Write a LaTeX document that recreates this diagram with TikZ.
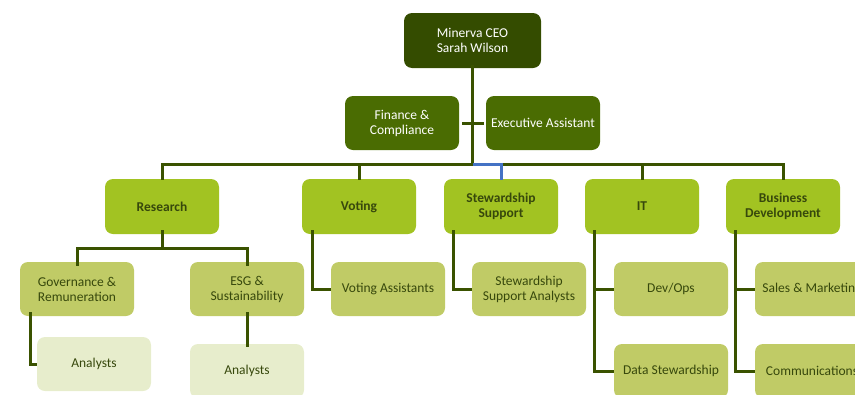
\documentclass[tikz,border=0pt]{standalone}
\usepackage{fontspec}
\setmainfont{Carlito}
\usetikzlibrary{positioning,calc}

\definecolor{ceogreen}{RGB}{52,76,0}
\definecolor{staffgreen}{RGB}{74,108,2}
\definecolor{deptgreen}{RGB}{162,195,34}
\definecolor{teamgreen}{RGB}{192,203,102}
\definecolor{subgreen}{RGB}{231,237,204}
\definecolor{linegreen}{RGB}{58,82,0}
\definecolor{textgreen}{RGB}{55,72,12}
\definecolor{linkblue}{RGB}{68,114,196}

\tikzset{
    box/.style={rounded corners=8pt, minimum width=114pt, minimum height=54pt, align=center,
        font=\fontsize{13.5}{15}\selectfont, inner sep=2pt},
    ceobox/.style={box, fill=ceogreen, text=white, minimum width=137pt, minimum height=55pt},
    staffbox/.style={box, fill=staffgreen, text=white},
    deptbox/.style={box, fill=deptgreen, text=textgreen, font=\fontsize{13.5}{15}\selectfont\bfseries, minimum height=55pt},
    teambox/.style={box, fill=teamgreen, text=textgreen},
    subbox/.style={box, fill=subgreen, text=textgreen},
    link/.style={draw=linegreen, line width=3pt},
}

\begin{document}
\begin{tikzpicture}[x=1pt,y=-1pt]
    \useasboundingbox (0,0) rectangle (855,394);
    \clip (0,0) rectangle (855,394);

    % top of the chart
    \node[ceobox] (ceo) at (472.5,40.5) {Minerva CEO\\Sarah Wilson};
    \node[staffbox] (fin) at (402,123) {Finance \&\\Compliance};
    \node[staffbox] (exec) at (543,123) {Executive Assistant};

    % departments
    \node[deptbox] (research) at (162,206.5) {Research};
    \node[deptbox] (voting) at (359,206.5) {Voting};
    \node[deptbox] (stew) at (501,206.5) {Stewardship\\Support};
    \node[deptbox] (it) at (642,206.5) {IT};
    \node[deptbox] (bizdev) at (783,206.5) {Business\\Development};

    % teams
    \node[teambox] (gov) at (77,289) {Governance \&\\Remuneration};
    \node[teambox] (esg) at (247,289) {ESG \&\\Sustainability};
    \node[teambox] (votass) at (388,289) {Voting Assistants};
    \node[teambox] (stewana) at (529,289) {Stewardship\\Support Analysts};
    \node[teambox] (devops) at (671,289) {Dev/Ops};
    \node[teambox] (datastew) at (671,371) {Data Stewardship};
    \node[teambox] (sales) at (812,289) {Sales \& Marketing};
    \node[teambox] (comms) at (812,371) {Communications};

    % analysts
    \node[subbox] (govana) at (94,364) {Analysts};
    \node[subbox] (esgana) at (247,371) {Analysts};

    % connectors
    \coordinate (bar) at (472.5,164);
    \coordinate (rsplit) at (162,248);
    \draw[link] ([yshift=3pt]ceo.south) -- (bar);
    \draw[link] ([xshift=3pt]fin.east) -- ([xshift=-2pt]exec.west);
    \draw[link] ([yshift=-1pt]research.north) |- (bar) -| ([yshift=-1pt]bizdev.north);
    \draw[link] (voting.north |- bar) -- ([yshift=-1pt]voting.north);
    \draw[link] (it.north |- bar) -- ([yshift=-1pt]it.north);
    \draw[link, draw=linkblue] (bar) -| ([yshift=-1pt]stew.north);

    \draw[link] ([yshift=4pt]research.south) -- (rsplit);
    \draw[link] ([yshift=-4pt]gov.north) |- (rsplit) -| ([yshift=-4pt]esg.north);
    \draw[link] ([xshift=11pt,yshift=4pt]gov.south west) |- (govana.west);
    \draw[link] ([yshift=4pt]esg.south) -- ([yshift=-3pt]esgana.north);

    \draw[link] ([xshift=11pt,yshift=4pt]voting.south west) |- (votass.west);
    \draw[link] ([xshift=10pt,yshift=4pt]stew.south west) |- (stewana.west);
    \draw[link] ([xshift=10pt,yshift=4pt]it.south west) |- (datastew.west);
    \draw[link] (it.south west -| datastew.west) ++(-19,0) |- (devops.west);
    \draw[link] ([xshift=10pt,yshift=4pt]bizdev.south west) |- (comms.west);
    \draw[link] (bizdev.south west -| comms.west) ++(-19,0) |- (sales.west);
\end{tikzpicture}
\end{document}
